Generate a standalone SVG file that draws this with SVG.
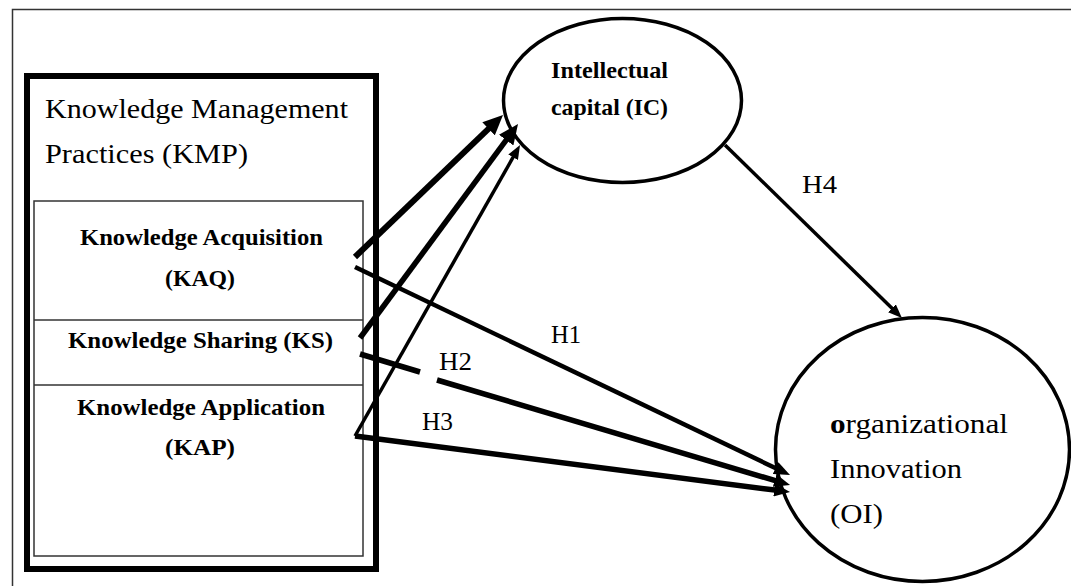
<svg xmlns="http://www.w3.org/2000/svg" width="1071" height="586" viewBox="0 0 1071 586">
<style>
text{font-family:'Liberation Serif',Tinos,'Times New Roman',Times,serif;fill:#000}
.b{font-weight:bold}
.c{stroke:#000;fill:none}
</style>
<defs>
<marker id="aL" markerUnits="userSpaceOnUse" markerWidth="20" markerHeight="18" refX="6" refY="9" orient="auto"><path d="M0,0 L20,9 L0,18 z" fill="#000"/></marker>
<marker id="aM" markerUnits="userSpaceOnUse" markerWidth="16" markerHeight="13" refX="5" refY="6.5" orient="auto"><path d="M0,0 L16,6.5 L0,13 z" fill="#000"/></marker>
<marker id="aS" markerUnits="userSpaceOnUse" markerWidth="14" markerHeight="11" refX="4" refY="5.5" orient="auto"><path d="M0,0 L14,5.5 L0,11 z" fill="#000"/></marker>
</defs>
<rect width="1071" height="586" fill="#fff"/>
<path d="M12.5,586 V9.5 H1071" fill="none" stroke="#333" stroke-width="1.5"/>

<g id="kmp">
<rect x="27" y="76" width="349" height="493" fill="none" stroke="#000" stroke-width="6"/>
<text font-family="Liberation Serif" x="45" y="118" font-size="27" textLength="303" lengthAdjust="spacingAndGlyphs">Knowledge Management</text>
<text font-family="Liberation Serif" x="45" y="163" font-size="27" textLength="203" lengthAdjust="spacingAndGlyphs">Practices (KMP)</text>
<rect x="34" y="201" width="329" height="355" fill="none" stroke="#333" stroke-width="1.5"/>
</g>
<g id="kaq">
<text class="b" font-family="Liberation Serif" x="80" y="245" font-size="23" textLength="243" lengthAdjust="spacingAndGlyphs">Knowledge Acquisition</text>
<text class="b" font-family="Liberation Serif" x="165" y="286" font-size="23" textLength="70" lengthAdjust="spacingAndGlyphs">(KAQ)</text>
</g>
<g id="ks">
<line x1="34" y1="320" x2="363" y2="320" stroke="#333" stroke-width="1.5"/>
<text class="b" font-family="Liberation Serif" x="68" y="348" font-size="23" textLength="265" lengthAdjust="spacingAndGlyphs">Knowledge Sharing (KS)</text>
</g>
<g id="kap">
<line x1="34" y1="385" x2="363" y2="385" stroke="#333" stroke-width="1.5"/>
<text class="b" font-family="Liberation Serif" x="77" y="415" font-size="23" textLength="248" lengthAdjust="spacingAndGlyphs">Knowledge Application</text>
<text class="b" font-family="Liberation Serif" x="165" y="455" font-size="23" textLength="70" lengthAdjust="spacingAndGlyphs">(KAP)</text>
</g>
<g id="ic">
<ellipse cx="622.5" cy="100.5" rx="119" ry="82" fill="#fff" stroke="#000" stroke-width="3.5"/>
<text class="b" font-family="Liberation Serif" x="551" y="78" font-size="24" textLength="117" lengthAdjust="spacingAndGlyphs">Intellectual</text>
<text class="b" font-family="Liberation Serif" x="551" y="115" font-size="24" textLength="117" lengthAdjust="spacingAndGlyphs">capital (IC)</text>
</g>
<g id="oi">
<ellipse cx="922.5" cy="449.5" rx="147" ry="132" fill="#fff" stroke="#000" stroke-width="3.5"/>
<text font-family="Liberation Serif" x="830" y="433" font-size="27" textLength="178" lengthAdjust="spacingAndGlyphs"><tspan font-weight="bold">o</tspan>rganizational</text>
<text font-family="Liberation Serif" x="830" y="478" font-size="27" textLength="132" lengthAdjust="spacingAndGlyphs">Innovation</text>
<text font-family="Liberation Serif" x="830" y="523" font-size="27" textLength="53" lengthAdjust="spacingAndGlyphs">(OI)</text>
</g>

<g id="connectors">
<line class="c" x1="355" y1="257" x2="492.9" y2="124.7" stroke-width="6" marker-end="url(#aL)"/>
<line class="c" x1="360" y1="338" x2="509.7" y2="135.3" stroke-width="5.5" marker-end="url(#aL)"/>
<line class="c" x1="355" y1="436" x2="515.1" y2="153.7" stroke-width="3.5" marker-end="url(#aS)"/>
<line class="c" x1="355" y1="267" x2="780.1" y2="470.3" stroke-width="4.5" marker-end="url(#aM)"/>
<line class="c" x1="360" y1="354" x2="420" y2="372" stroke-width="5.5"/>
<line class="c" x1="437" y1="380" x2="779.5" y2="481.9" stroke-width="5.5" marker-end="url(#aM)"/>
<line class="c" x1="355" y1="436" x2="779.1" y2="490.6" stroke-width="5.5" marker-end="url(#aM)"/>
<line class="c" x1="725" y1="145" x2="894.8" y2="311" stroke-width="3.5" marker-end="url(#aS)"/>
<text font-family="Liberation Serif" x="551" y="343" font-size="26" textLength="30" lengthAdjust="spacingAndGlyphs">H1</text>
<text font-family="Liberation Serif" x="439" y="370" font-size="26" textLength="33" lengthAdjust="spacingAndGlyphs">H2</text>
<text font-family="Liberation Serif" x="422" y="430" font-size="26" textLength="31" lengthAdjust="spacingAndGlyphs">H3</text>
<text font-family="Liberation Serif" x="802" y="193" font-size="26" textLength="35" lengthAdjust="spacingAndGlyphs">H4</text>
</g>
</svg>
